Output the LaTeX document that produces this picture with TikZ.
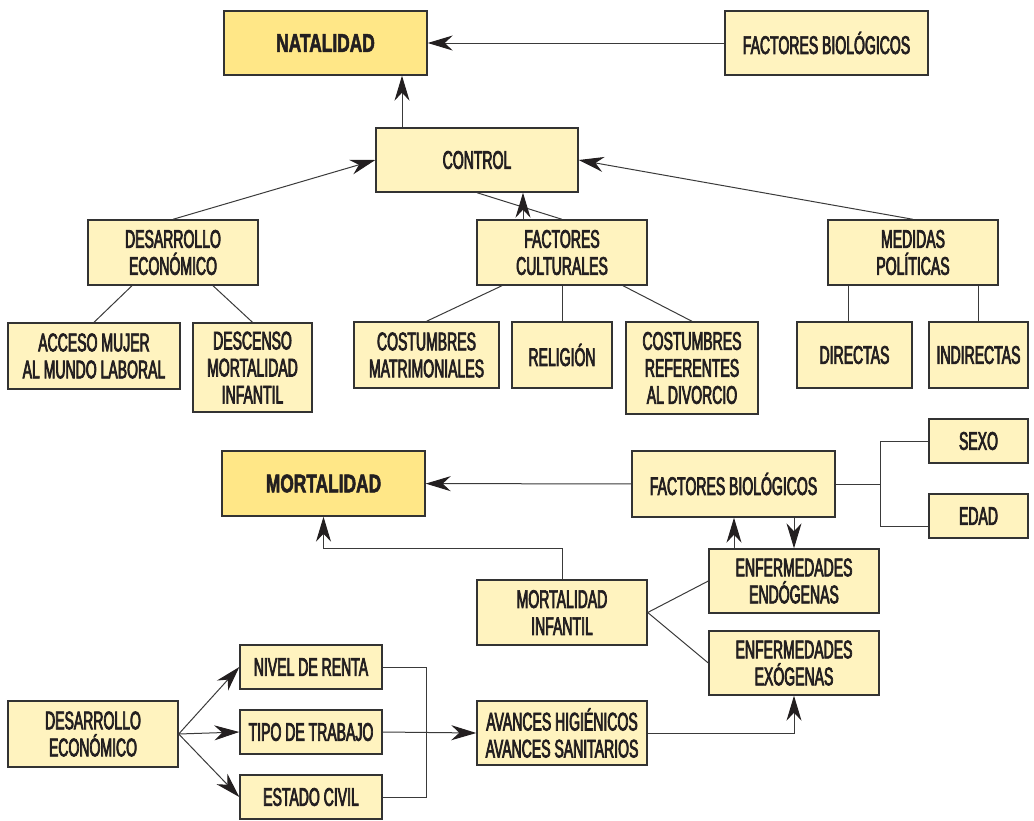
\documentclass[tikz,border=0pt]{standalone}
\usepackage{fontspec}
\setmainfont{Liberation Sans}[FakeStretch=0.55,FakeBold=2.8]
\newfontfamily\heavyfont{Liberation Sans Bold}[FakeStretch=0.68,FakeBold=2]
\usetikzlibrary{arrows.meta}
\definecolor{boxfill}{HTML}{FFF3BF}
\definecolor{darkfill}{HTML}{FFE787}
\definecolor{boxline}{HTML}{333333}
\definecolor{txt}{HTML}{231F20}
\definecolor{conn}{HTML}{3A3A3A}
\definecolor{tip}{HTML}{231F20}
\tikzset{
  box/.style={draw=boxline, line width=1.4pt, fill=boxfill, align=center, text=txt,
    font=\fontsize{25.5}{27}\selectfont, inner sep=0pt},
  mainbox/.style={box, fill=darkfill, font=\fontsize{25.5}{27}\selectfont\heavyfont},
  ln/.style={draw=conn, line width=1pt},
  arr/.style={ln, -{Stealth[length=25pt,width=15pt,inset=8pt,color=tip]}},
}
\begin{document}
\begin{tikzpicture}[x=1pt,y=1pt]
\useasboundingbox (0,0) rectangle (1034,-820);
% ---------- NATALIDAD ----------
\node[mainbox, minimum width=203pt, minimum height=64pt] (nat) at (325.5,-43) {NATALIDAD};
\node[box, minimum width=203pt, minimum height=64pt] (fbt) at (826.5,-43) {FACTORES BIOLÓGICOS};
\node[box, minimum width=202pt, minimum height=64pt] (control) at (477,-160) {CONTROL};
\node[box, minimum width=170pt, minimum height=65pt] (deseco) at (173,-252.5) {DESARROLLO\\ECONÓMICO};
\node[box, minimum width=170pt, minimum height=65pt] (fcult) at (562,-252.5) {FACTORES\\CULTURALES};
\node[box, minimum width=170pt, minimum height=65pt] (medidas) at (913,-252.5) {MEDIDAS\\POLÍTICAS};
\node[box, minimum width=172pt, minimum height=66pt] (acceso) at (94,-356) {ACCESO MUJER\\AL MUNDO LABORAL};
\node[box, minimum width=119pt, minimum height=89pt] (descenso) at (252.5,-367.5) {DESCENSO\\MORTALIDAD\\INFANTIL};
\node[box, minimum width=145pt, minimum height=66pt] (costm) at (426.5,-355) {COSTUMBRES\\MATRIMONIALES};
\node[box, minimum width=100pt, minimum height=66pt] (religion) at (562,-355) {RELIGIÓN};
\node[box, minimum width=132pt, minimum height=92pt] (divorcio) at (692,-368) {COSTUMBRES\\REFERENTES\\AL DIVORCIO};
\node[box, minimum width=115pt, minimum height=66pt] (directas) at (854.5,-355) {DIRECTAS};
\node[box, minimum width=99pt, minimum height=66pt] (indirectas) at (978.5,-355) {INDIRECTAS};
% ---------- MORTALIDAD ----------
\node[mainbox, minimum width=203pt, minimum height=65pt] (mort) at (323.5,-483.5) {MORTALIDAD};
\node[box, minimum width=203pt, minimum height=66pt] (fbm) at (733.5,-484) {FACTORES BIOLÓGICOS};
\node[box, minimum width=99pt, minimum height=44pt] (sexo) at (978.5,-441) {SEXO};
\node[box, minimum width=99pt, minimum height=44pt] (edad) at (978.5,-516) {EDAD};
\node[box, minimum width=170pt, minimum height=64pt] (endo) at (794,-581) {ENFERMEDADES\\ENDÓGENAS};
\node[box, minimum width=170pt, minimum height=64pt] (exo) at (794,-663) {ENFERMEDADES\\EXÓGENAS};
\node[box, minimum width=170pt, minimum height=65pt] (mi) at (562,-612.5) {MORTALIDAD\\INFANTIL};
\node[box, minimum width=170pt, minimum height=66pt] (desb) at (93,-734) {DESARROLLO\\ECONÓMICO};
\node[box, minimum width=142pt, minimum height=44pt] (nivel) at (311,-667) {NIVEL DE RENTA};
\node[box, minimum width=142pt, minimum height=44pt] (tipo) at (311,-732) {TIPO DE TRABAJO};
\node[box, minimum width=142pt, minimum height=44pt] (estado) at (311,-797) {ESTADO CIVIL};
\node[box, minimum width=170pt, minimum height=64pt] (avances) at (562,-733) {AVANCES HIGIÉNICOS\\AVANCES SANITARIOS};
% ---------- connectors (natalidad) ----------
\draw[arr] (fbt) -- (nat);
\draw[arr] ([xshift=-75pt]control.north) -- ([xshift=-75pt]control.north |- nat.south);
\draw[arr] (deseco.north) -- (control.west);
\draw[arr] (medidas.north) -- (control.east);
\draw[ln] (control.south) -- (fcult.north);
\draw[arr] ([xshift=-39pt]fcult.north) -- ([xshift=-39pt]fcult.north |- control.south);
\draw[ln] ([xshift=-41pt]deseco.south) -- (acceso.north);
\draw[ln] ([xshift=40pt]deseco.south) -- (descenso.north);
\draw[ln] ([xshift=-60pt]fcult.south) -- (costm.north);
\draw[ln] (fcult.south) -- (religion.north);
\draw[ln] ([xshift=61pt]fcult.south) -- (divorcio.north);
\draw[ln] ([xshift=-65pt]medidas.south) -- ([xshift=-65pt]medidas.south |- directas.north);
\draw[ln] ([xshift=65pt]medidas.south) -- ([xshift=65pt]medidas.south |- indirectas.north);
% ---------- connectors (mortalidad) ----------
\coordinate (br) at (880,-484);
\draw[arr] (fbm) -- (mort);
\draw[ln] (fbm.east) -- (br);
\draw[ln] (sexo.west) -| (br);
\draw[ln] ([yshift=-10pt]edad.west) -| (br);
\draw[arr] ([xshift=-60pt]endo.north) -- ([xshift=-60pt]endo.north |- fbm.south);
\draw[arr] (endo.north |- fbm.south) -- (endo.north);
\draw[arr] (mi.north) -- ++(0,31) -| (mort.south);
\draw[ln] (mi.east) -- (endo.west);
\draw[ln] (mi.east) -- (exo.west);
\draw[arr] (desb.east) -- (nivel.west);
\draw[arr] (desb.east) -- (tipo.west);
\draw[arr] (desb.east) -- (estado.west);
\draw[ln] (nivel.east) -- ++(44,0) |- (estado.east);
\draw[arr] (tipo.east) -- (avances.west);
\draw[arr] (avances.east) -| (exo.south);
\end{tikzpicture}
\end{document}
